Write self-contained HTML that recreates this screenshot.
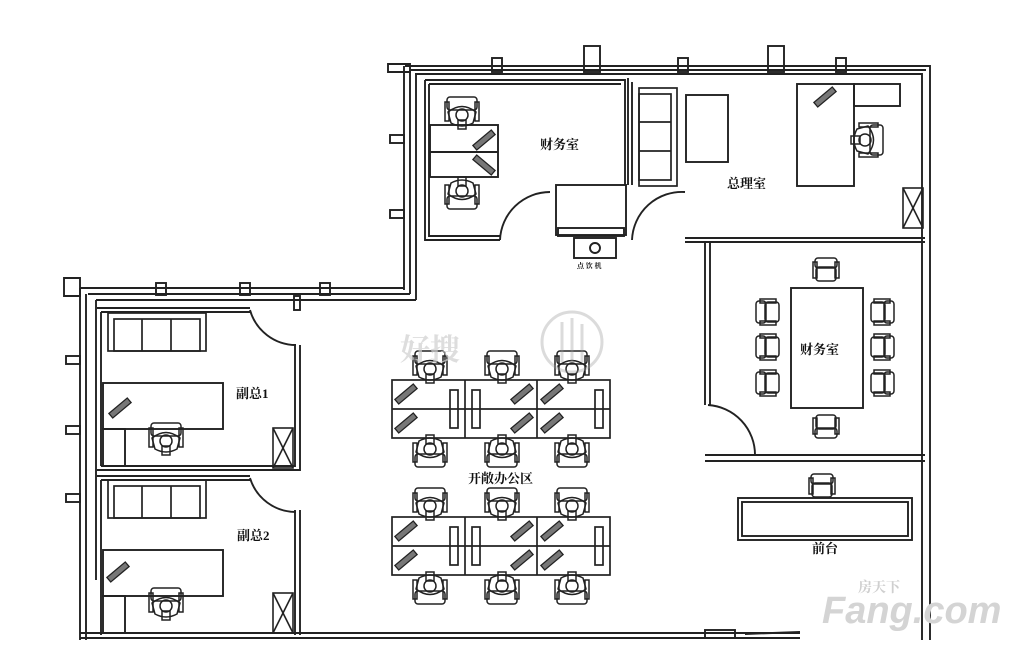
<!DOCTYPE html>
<html><head><meta charset="utf-8"><style>
html,body{margin:0;padding:0;background:#fff;}
svg{display:block;}
text{font-family:"Liberation Serif","Noto Serif CJK SC","Noto Sans CJK SC",serif;font-weight:bold;fill:#111;}
</style></head><body>
<svg width="1020" height="652" viewBox="0 0 1020 652" xmlns="http://www.w3.org/2000/svg">
<defs>
<g id="chair" fill="none" stroke="#222" stroke-width="1.5">
 <rect x="-15" y="-17" width="30" height="13" rx="3"/>
 <rect x="-17" y="-12" width="4" height="19"/>
 <rect x="13" y="-12" width="4" height="19"/>
 <path d="M-14 -2 Q0 -13 14 -2 L11 9 Q0 15 -11 9 Z"/>
 <circle cx="0" cy="1" r="6"/>
 <rect x="-4" y="6" width="8" height="9"/>
</g>
<g id="chair2" fill="none" stroke="#222" stroke-width="1.5">
 <rect x="-11" y="-14" width="22" height="10" rx="3"/>
 <rect x="-13" y="-10" width="4" height="16"/>
 <rect x="9" y="-10" width="4" height="16"/>
 <rect x="-10" y="-5" width="20" height="14" rx="3"/>
</g>
<g id="kb" stroke="#222" stroke-width="1.3" fill="#777">
 <rect x="-12" y="-3" width="24" height="6" transform="rotate(-40)"/>
</g>
<g id="sofa" fill="none" stroke="#222" stroke-width="1.7">
 <rect x="0" y="0" width="98" height="38"/>
 <rect x="6" y="6" width="86" height="32"/>
 <line x1="34" y1="6" x2="34" y2="38"/><line x1="63" y1="6" x2="63" y2="38"/>
</g>
<g id="xbox" fill="none" stroke="#222" stroke-width="1.6">
 <rect x="0" y="0" width="20" height="40"/><line x1="0" y1="0" x2="20" y2="40"/><line x1="20" y1="0" x2="0" y2="40"/>
</g>
<g id="cluster" fill="none" stroke="#222" stroke-width="1.7">
 <rect x="0" y="0" width="218" height="58"/>
 <line x1="0" y1="29" x2="218" y2="29"/>
 <line x1="73" y1="0" x2="73" y2="58"/><line x1="145" y1="0" x2="145" y2="58"/>
 <use href="#kb" x="14" y="14"/><use href="#kb" x="14" y="43"/>
 <use href="#kb" x="130" y="14"/><use href="#kb" x="130" y="43"/>
 <use href="#kb" x="160" y="14"/><use href="#kb" x="160" y="43"/>
 <rect x="58" y="10" width="8" height="38"/><rect x="80" y="10" width="8" height="38"/><rect x="203" y="10" width="8" height="38"/>
 <use href="#chair" x="38" y="-12"/><use href="#chair" x="110" y="-12"/><use href="#chair" x="180" y="-12"/>
 <use href="#chair" x="38" y="70" transform="rotate(180 38 70)"/>
 <use href="#chair" x="110" y="70" transform="rotate(180 110 70)"/>
 <use href="#chair" x="180" y="70" transform="rotate(180 180 70)"/>
</g>
</defs>

<g fill="none" stroke="#222" stroke-width="1.9">
 <path d="M405 66 H930 V640"/><path d="M415 74 H922 V640"/>
 <line x1="410" y1="70" x2="926" y2="70"/>
 <path d="M388 64 H410 V72 H388 Z"/>
 <rect x="584" y="46" width="16" height="26"/><rect x="768" y="46" width="16" height="26"/>
 <rect x="492" y="58" width="10" height="14"/><rect x="678" y="58" width="10" height="14"/><rect x="836" y="58" width="10" height="14"/>
 <path d="M404 66 V290"/><path d="M410 70 V294"/><path d="M416 74 V300"/>
 <rect x="390" y="135" width="14" height="8"/><rect x="390" y="210" width="14" height="8"/>
 <path d="M80 288 H404"/><path d="M88 294 H410"/><path d="M96 300 H416"/>
 <path d="M64 278 H80 V296 H64 Z"/>
 <rect x="156" y="283" width="10" height="12"/><rect x="240" y="283" width="10" height="12"/><rect x="320" y="283" width="10" height="12"/>
 <rect x="294" y="296" width="6" height="14"/>
 <path d="M80 288 V640"/><path d="M86 294 V640"/><path d="M96 300 V580"/>
 <rect x="66" y="356" width="14" height="8"/><rect x="66" y="426" width="14" height="8"/><rect x="66" y="494" width="14" height="8"/>
 <path d="M80 633 H800"/><path d="M80 638 H800"/>
 <rect x="705" y="630" width="30" height="8"/>
 <line x1="745" y1="634" x2="800" y2="632"/>
 <path d="M425 80 V240 H500"/><path d="M429 84 V236 H500"/>
 <path d="M425 80 H625 V185"/><path d="M429 84 H621"/>
 <path d="M500 240 A50 50 0 0 1 550 192"/>
 <rect x="556" y="185" width="70" height="50"/><rect x="558" y="228" width="66" height="8"/>
 <rect x="574" y="238" width="42" height="20"/><circle cx="595" cy="248" r="5"/>
 <path d="M628 78 V185"/><path d="M632 82 V185"/>
 <path d="M632 240 A50 50 0 0 1 685 192"/>
 <path d="M685 238 H925"/><path d="M685 242 H925"/>
 <rect x="797" y="84" width="57" height="102"/><rect x="854" y="84" width="46" height="22"/>
 <rect x="686" y="95" width="42" height="67"/>
 <path d="M705 242 V405"/><path d="M710 242 V405"/>
 <path d="M708 405 A50 50 0 0 1 755 455"/>
 <path d="M705 455 H925"/><path d="M705 461 H925"/>
 <rect x="791" y="288" width="72" height="120"/>
 <rect x="738" y="498" width="174" height="42"/><rect x="742" y="502" width="166" height="34"/>
 <path d="M97 308 H250"/><path d="M101 312 H250"/>
 <path d="M300 345 V470 H97"/><path d="M295 345 V466 H101"/>
 <path d="M250 310 A48 48 0 0 0 296 345"/>
 <path d="M97 476 H250"/><path d="M101 480 H250"/>
 <path d="M300 510 V635"/><path d="M295 510 V635"/>
 <path d="M250 478 A48 48 0 0 0 296 512"/>
 <path d="M101 312 V466"/><path d="M101 480 V635"/>
 <rect x="103" y="383" width="120" height="46"/><rect x="103" y="429" width="22" height="37"/>
 <rect x="103" y="550" width="120" height="46"/><rect x="103" y="596" width="22" height="37"/>
 <rect x="430" y="125" width="68" height="52"/><line x1="430" y1="152" x2="498" y2="152"/>
</g>
<use href="#sofa" x="108" y="313"/>
<use href="#sofa" x="108" y="480"/>
<use href="#sofa" x="631" y="88" transform="rotate(90 631 88) translate(0 -46)"/>
<use href="#xbox" x="273" y="428"/><use href="#xbox" x="273" y="593"/><use href="#xbox" x="903" y="188"/>
<use href="#kb" x="120" y="408"/><use href="#kb" x="118" y="572"/><use href="#kb" x="825" y="97"/>
<use href="#kb" x="484" y="140"/><use href="#kb" x="484" y="165" transform="rotate(80 484 165)"/>
<use href="#chair" x="166" y="440"/><use href="#chair" x="166" y="605"/>
<use href="#chair" x="462" y="114"/><use href="#chair" x="462" y="192" transform="rotate(180 462 192)"/>
<use href="#chair" x="866" y="140" transform="rotate(90 866 140)"/>
<use href="#cluster" x="392" y="380"/>
<use href="#cluster" x="392" y="517"/>
<use href="#chair2" x="826" y="272"/><use href="#chair2" x="826" y="424" transform="rotate(180 826 424)"/>
<use href="#chair2" x="770" y="312" transform="rotate(-90 770 312)"/><use href="#chair2" x="770" y="347" transform="rotate(-90 770 347)"/><use href="#chair2" x="770" y="383" transform="rotate(-90 770 383)"/>
<use href="#chair2" x="880" y="312" transform="rotate(90 880 312)"/><use href="#chair2" x="880" y="347" transform="rotate(90 880 347)"/><use href="#chair2" x="880" y="383" transform="rotate(90 880 383)"/>
<use href="#chair2" x="822" y="488"/>

<text x="540" y="149" font-size="13">财务室</text>
<text x="727" y="188" font-size="13">总理室</text>
<text x="800" y="354" font-size="13">财务室</text>
<text x="236" y="398" font-size="13">副总1</text>
<text x="237" y="540" font-size="13">副总2</text>
<text x="468" y="483" font-size="13">开敞办公区</text>
<text x="812" y="553" font-size="13">前台</text>
<text x="577" y="268" font-size="7">点 饮 机</text>

<g opacity="0.35" fill="none" stroke="#999" stroke-width="3">
 <circle cx="572" cy="342" r="30"/>
 <line x1="562" y1="322" x2="562" y2="362"/><line x1="572" y1="318" x2="572" y2="362"/><line x1="582" y1="324" x2="582" y2="362"/>
</g>
<text x="400" y="360" font-size="30" style="fill:#d0d0d0" opacity="0.7">好搜</text>
<text x="822" y="623" font-size="38" style="fill:#d4d4d4;font-family:'Liberation Sans',sans-serif;font-style:italic">Fang.com</text>
<text x="858" y="592" font-size="14" style="fill:#cfcfcf">房天下</text>
</svg>
</body></html>
